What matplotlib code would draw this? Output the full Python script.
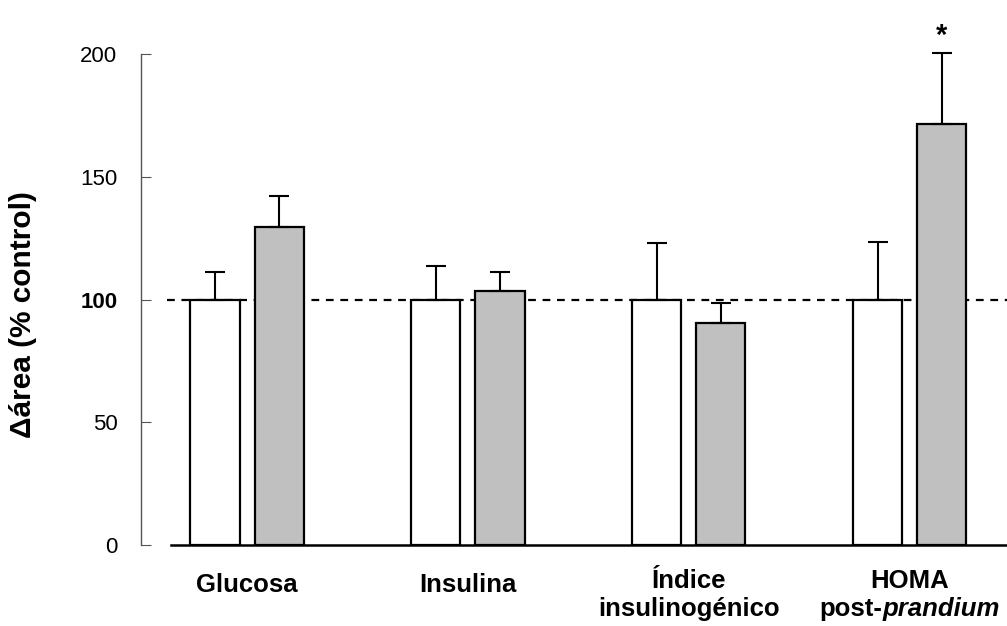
import matplotlib
matplotlib.use("Agg")
from matplotlib import pyplot as plt
from matplotlib.transforms import offset_copy
import numpy as np

plt.rcParams['font.family'] = ['Liberation Sans', 'DejaVu Sans']

categories = ["Glucosa", "Insulina", "Índice", "HOMA"]
second_line = ["", "", "insulinogénico", None]
control_mean = [100, 100, 100, 100]
control_err = [11, 13.5, 23, 23.5]
treated_mean = [129.5, 103.5, 90.5, 171.5]
treated_err = [12.5, 7.5, 8, 29]
y_ticks = [0, 50, 100, 150, 200]

bar_width = .222
offset = .145
x = np.arange(len(categories))

fig = plt.figure(figsize=(10.07, 6.26), dpi=100)
ax = fig.add_axes([141/1007, 1 - 545/626, 866/1007, 491/626])

ax.axhline(100, xmin=0.03, xmax=1, color='black', lw=1.6, ls=(0, (3.5, 3)), zorder=1)

ax.bar(x - offset, control_mean, width=bar_width, color='white', edgecolor='black', lw=1.6, zorder=2)
ax.bar(x + offset, treated_mean, width=bar_width, color='#c0c0c0', edgecolor='black', lw=1.6, zorder=2)
ax.errorbar(x - offset, control_mean, yerr=[[0]*4, control_err], fmt='none', ecolor='black',
            elinewidth=1.5, capsize=7.5, capthick=1.5, zorder=3, clip_on=False)
ax.errorbar(x + offset, treated_mean, yerr=[[0]*4, treated_err], fmt='none', ecolor='black',
            elinewidth=1.5, capsize=7.5, capthick=1.5, zorder=3, clip_on=False)

# significance mark
ax.text(x[3] + offset, treated_mean[3] + treated_err[3] + 3.5, "*", ha='center', va='baseline',
        fontsize=21, fontweight='bold', clip_on=False)

ax.axhline(0, xmin=0.035, xmax=1, color='black', lw=1.8, zorder=4, clip_on=False)

ax.set_xlim(-0.48, 3.44)
ax.set_ylim(0, 200)
for s in ['top', 'right', 'bottom']:
    ax.spines[s].set_visible(False)
ax.spines['left'].set_color('#555555')
ax.spines['left'].set_linewidth(1.0)
ax.set_yticks(y_ticks)
ax.tick_params(axis='y', direction='in', length=7, color='#555555', labelsize=16, pad=17)
for lab in ax.get_yticklabels():
    if lab.get_text() == '100':
        lab.set_fontweight('bold')
ax.set_xticks([])

# category labels
tr = ax.get_xaxis_transform()
for i, name in enumerate(categories):
    if second_line[i] == "":
        ax.text(x[i], -0.0957, name, transform=tr, ha='center', va='baseline',
                fontsize=18.5, fontweight='bold')
    else:
        ax.text(x[i], -0.0876, name, transform=tr, ha='center', va='baseline',
                fontsize=18.5, fontweight='bold')
        if second_line[i]:
            ax.text(x[i], -0.1446, second_line[i], transform=tr, ha='center', va='baseline',
                    fontsize=18.5, fontweight='bold')

# "post-prandium" with italic part, centred as a whole under HOMA
r = fig.canvas.get_renderer()
t1 = ax.text(x[3], -0.1446, "post-", transform=tr, ha='left', va='baseline',
             fontsize=18.5, fontweight='bold')
t2 = ax.text(x[3], -0.1446, "prandium", transform=tr, ha='left', va='baseline',
             fontsize=18.5, fontweight='bold', style='italic')
w1 = t1.get_window_extent(r).width
w2 = t2.get_window_extent(r).width
shift = -(w1 + w2) / 2
t1.set_transform(offset_copy(tr, fig=fig, x=shift * 72 / fig.dpi, y=0, units='points'))
t2.set_transform(offset_copy(tr, fig=fig, x=(shift + w1) * 72 / fig.dpi, y=0, units='points'))

fig.text(23/1007, 1 - 315/626, "Δárea (% control)", rotation=90, ha='center', va='center',
         fontsize=21.5, fontweight='bold')

fig.savefig("out.png", dpi=100)
